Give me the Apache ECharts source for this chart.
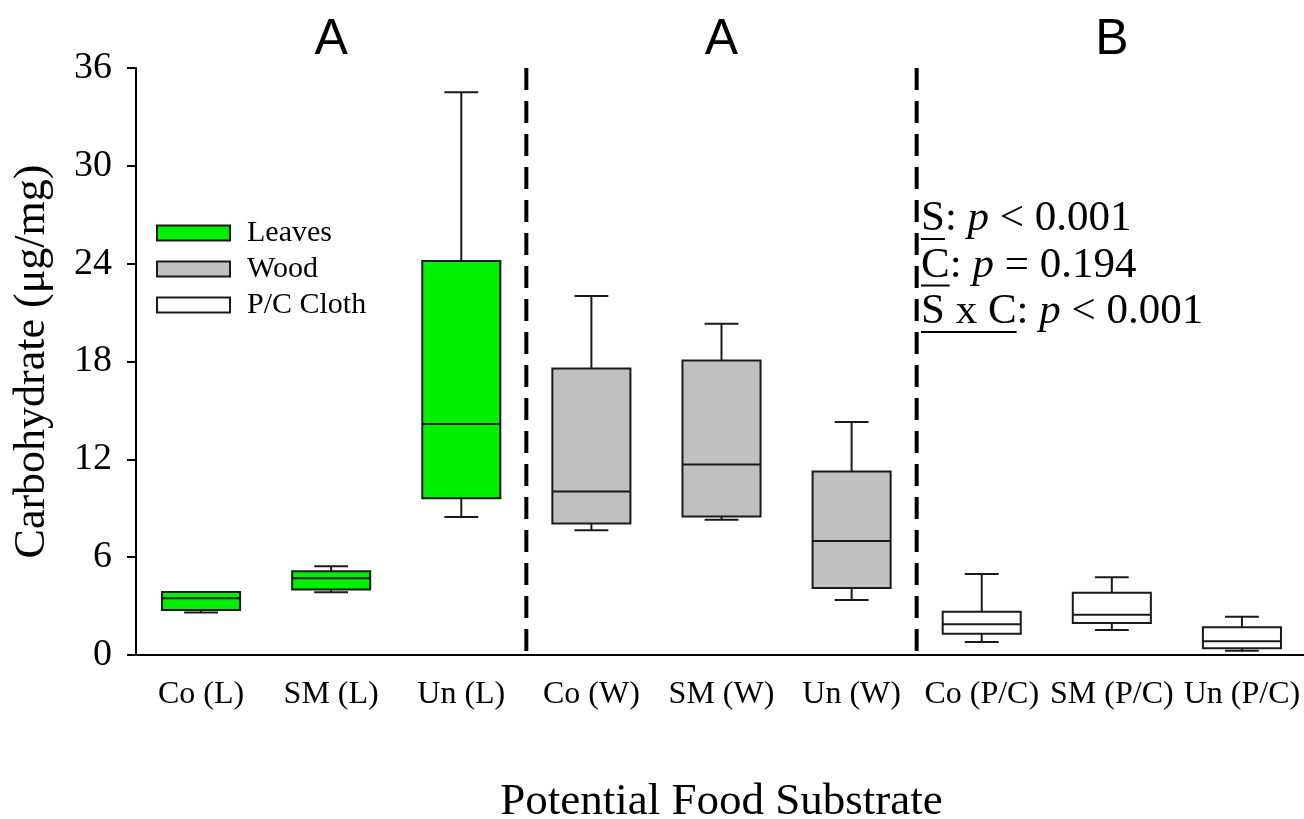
<!DOCTYPE html>
<html>
<head>
<meta charset="utf-8">
<script src="https://cdn.jsdelivr.net/npm/echarts@6/dist/echarts.min.js"></script>
<style>
  html, body { margin: 0; padding: 0; background: #fff; }
  #chart { width: 1304px; height: 819px; }
</style>
</head>
<body>
<div id="chart"></div>
<script>
// Substrate × condition categories along the x axis
const categories = ['Co (L)', 'SM (L)', 'Un (L)', 'Co (W)', 'SM (W)', 'Un (W)', 'Co (P/C)', 'SM (P/C)', 'Un (P/C)'];

// Box summaries per category: [min, Q1, median, Q3, max] in µg/mg
const leavesBoxes = [
  [2.60, 2.76, 3.48, 3.87, 3.87],
  [3.85, 4.01, 4.71, 5.13, 5.44],
  [8.47, 9.61, 14.17, 24.17, 34.52]
];
const woodBoxes = [
  [7.65, 8.06, 10.02, 17.57, 22.02],
  [8.30, 8.49, 11.68, 18.06, 20.31],
  [3.37, 4.11, 6.99, 11.25, 14.29]
];
const clothBoxes = [
  [0.80, 1.31, 1.88, 2.66, 4.97],
  [1.53, 1.96, 2.47, 3.82, 4.77],
  [0.26, 0.41, 0.84, 1.70, 2.35]
];

// First category index of each substrate group
const leavesStart = 0, woodStart = 3, clothStart = 6;

// Dashed separators sit after these category indices
const dividerAfter = [2, 5];

// Letters marking significance groups, placed over the given categories
const groupLetterAt = [1, 4, 7];
const groupLetters = ['A', 'A', 'B'];

// Statistics: term (underlined) and relation
const statTerms = ['S', 'C', 'S x C'];
const statRelations = ['< 0.001', '= 0.194', '< 0.001'];

const yMin = 0, yMax = 36, yStep = 6;

const SERIF = '"Liberation Serif", "Times New Roman", serif';
const SANS = '"Liberation Sans", Arial, sans-serif';
const INK = '#1a1a1a';

function toRows(boxes, start) {
  return boxes.map((b, i) => [start + i].concat(b));
}

function renderBox(params, api) {
  const idx = api.value(0);
  const lo = api.coord([idx, api.value(1)]);
  const q1 = api.coord([idx, api.value(2)]);
  const md = api.coord([idx, api.value(3)]);
  const q3 = api.coord([idx, api.value(4)]);
  const hi = api.coord([idx, api.value(5)]);
  const band = api.size([1, 0])[0];
  const bw = band * 0.6;
  const cw = band * 0.26;
  const cx = lo[0];
  const ln = { stroke: INK, lineWidth: 2 };
  return {
    type: 'group',
    children: [
      { type: 'line', shape: { x1: cx, y1: q1[1], x2: cx, y2: lo[1] }, style: ln },
      { type: 'line', shape: { x1: cx, y1: q3[1], x2: cx, y2: hi[1] }, style: ln },
      { type: 'line', shape: { x1: cx - cw / 2, y1: lo[1], x2: cx + cw / 2, y2: lo[1] }, style: ln },
      { type: 'line', shape: { x1: cx - cw / 2, y1: hi[1], x2: cx + cw / 2, y2: hi[1] }, style: ln },
      { type: 'rect', shape: { x: cx - bw / 2, y: q3[1], width: bw, height: q1[1] - q3[1] },
        style: { fill: api.visual('color'), stroke: INK, lineWidth: 2 } },
      { type: 'line', shape: { x1: cx - bw / 2, y1: md[1], x2: cx + bw / 2, y2: md[1] }, style: ln }
    ]
  };
}

function renderDivider(params, api) {
  const idx = api.value(0);
  const top = api.coord([idx, yMax]);
  const bot = api.coord([idx, yMin]);
  const x = top[0] + api.size([1, 0])[0] / 2;
  return {
    type: 'line',
    shape: { x1: x, y1: top[1], x2: x, y2: bot[1] },
    style: { stroke: '#000', lineWidth: 4, lineDash: [22, 11] }
  };
}

function renderLetter(params, api) {
  const p = api.coord([api.value(0), yMax]);
  return {
    type: 'text',
    x: p[0], y: p[1] - 28,
    style: {
      text: groupLetters[params.dataIndex],
      font: '50px ' + SANS,
      fill: '#000',
      align: 'center',
      verticalAlign: 'middle'
    }
  };
}

const boxSeries = (name, color, rows) => ({
  name: name,
  type: 'custom',
  renderItem: renderBox,
  data: rows,
  encode: { x: 0, y: [1, 2, 3, 4, 5] },
  itemStyle: { color: color, borderColor: INK, borderWidth: 2 },
  clip: false,
  z: 3
});

// Statistics block with underlined term names
const statFontSize = 43;
const measureCtx = document.createElement('canvas').getContext('2d');
function textWidth(str, font) {
  measureCtx.font = font;
  return measureCtx.measureText(str).width;
}
const statX = 921;
const statY0 = 219;
const statDy = 46.5;
const statGraphics = [];
statTerms.forEach((term, i) => {
  const y = statY0 + i * statDy;
  statGraphics.push({
    type: 'text',
    x: statX, y: y,
    style: {
      text: '{n|' + term + ': }{i|p}{n| ' + statRelations[i] + '}',
      rich: {
        n: { font: statFontSize + 'px ' + SERIF, fill: '#000' },
        i: { font: 'italic ' + statFontSize + 'px ' + SERIF, fill: '#000' }
      },
      align: 'left',
      verticalAlign: 'middle'
    }
  });
  const w = textWidth(term, statFontSize + 'px ' + SERIF);
  statGraphics.push({
    type: 'line',
    shape: { x1: statX, y1: y + 20, x2: statX + w, y2: y + 20 },
    style: { stroke: '#000', lineWidth: 2 }
  });
});

const chart = echarts.init(document.getElementById('chart'), null, { renderer: 'canvas' });

chart.setOption({
  animation: false,
  backgroundColor: '#fff',
  grid: { left: 136, top: 68, width: 1171, bottom: 164, containLabel: false, outerBoundsMode: 'none' },
  legend: {
    orient: 'vertical',
    left: 151,
    top: 213,
    icon: 'rect',
    itemWidth: 73,
    itemHeight: 15,
    itemGap: 6,
    itemStyle: { borderColor: INK, borderWidth: 2 },
    textStyle: { fontFamily: SERIF, fontSize: 30, color: '#000', padding: [0, 0, 0, 12] },
    data: ['Leaves', 'Wood', 'P/C Cloth'],
    selectedMode: false
  },
  xAxis: {
    type: 'category',
    data: categories,
    boundaryGap: true,
    name: 'Potential Food Substrate',
    nameLocation: 'middle',
    nameGap: 125,
    nameTextStyle: { fontFamily: SERIF, fontSize: 45, color: '#000' },
    axisLine: { lineStyle: { color: '#000', width: 2 } },
    axisTick: { alignWithLabel: true, length: 10, lineStyle: { color: '#000', width: 2 } },
    axisLabel: { interval: 0, fontFamily: SERIF, fontSize: 32, color: '#000', margin: 24 },
    splitLine: { show: false }
  },
  yAxis: {
    type: 'value',
    min: yMin, max: yMax, interval: yStep,
    name: 'Carbohydrate (μg/mg)',
    nameLocation: 'middle',
    nameGap: 82,
    nameRotate: 90,
    nameTextStyle: { fontFamily: SERIF, fontSize: 44, color: '#000' },
    axisLine: { show: true, lineStyle: { color: '#000', width: 2 } },
    axisTick: { show: true, length: 9, lineStyle: { color: '#000', width: 2 } },
    axisLabel: { fontFamily: SERIF, fontSize: 38, color: '#000', margin: 24 },
    splitLine: { show: false }
  },
  series: [
    boxSeries('Leaves', '#00f000', toRows(leavesBoxes, leavesStart)),
    boxSeries('Wood', '#c0c0c0', toRows(woodBoxes, woodStart)),
    boxSeries('P/C Cloth', '#ffffff', toRows(clothBoxes, clothStart)),
    {
      name: 'dividers',
      type: 'custom',
      renderItem: renderDivider,
      data: dividerAfter.map(d => [d]),
      encode: { x: 0 },
      clip: false,
      silent: true,
      z: 2
    },
    {
      name: 'groups',
      type: 'custom',
      renderItem: renderLetter,
      data: groupLetterAt.map(d => [d]),
      encode: { x: 0 },
      clip: false,
      silent: true,
      z: 2
    }
  ],
  graphic: statGraphics
});
</script>
</body>
</html>
